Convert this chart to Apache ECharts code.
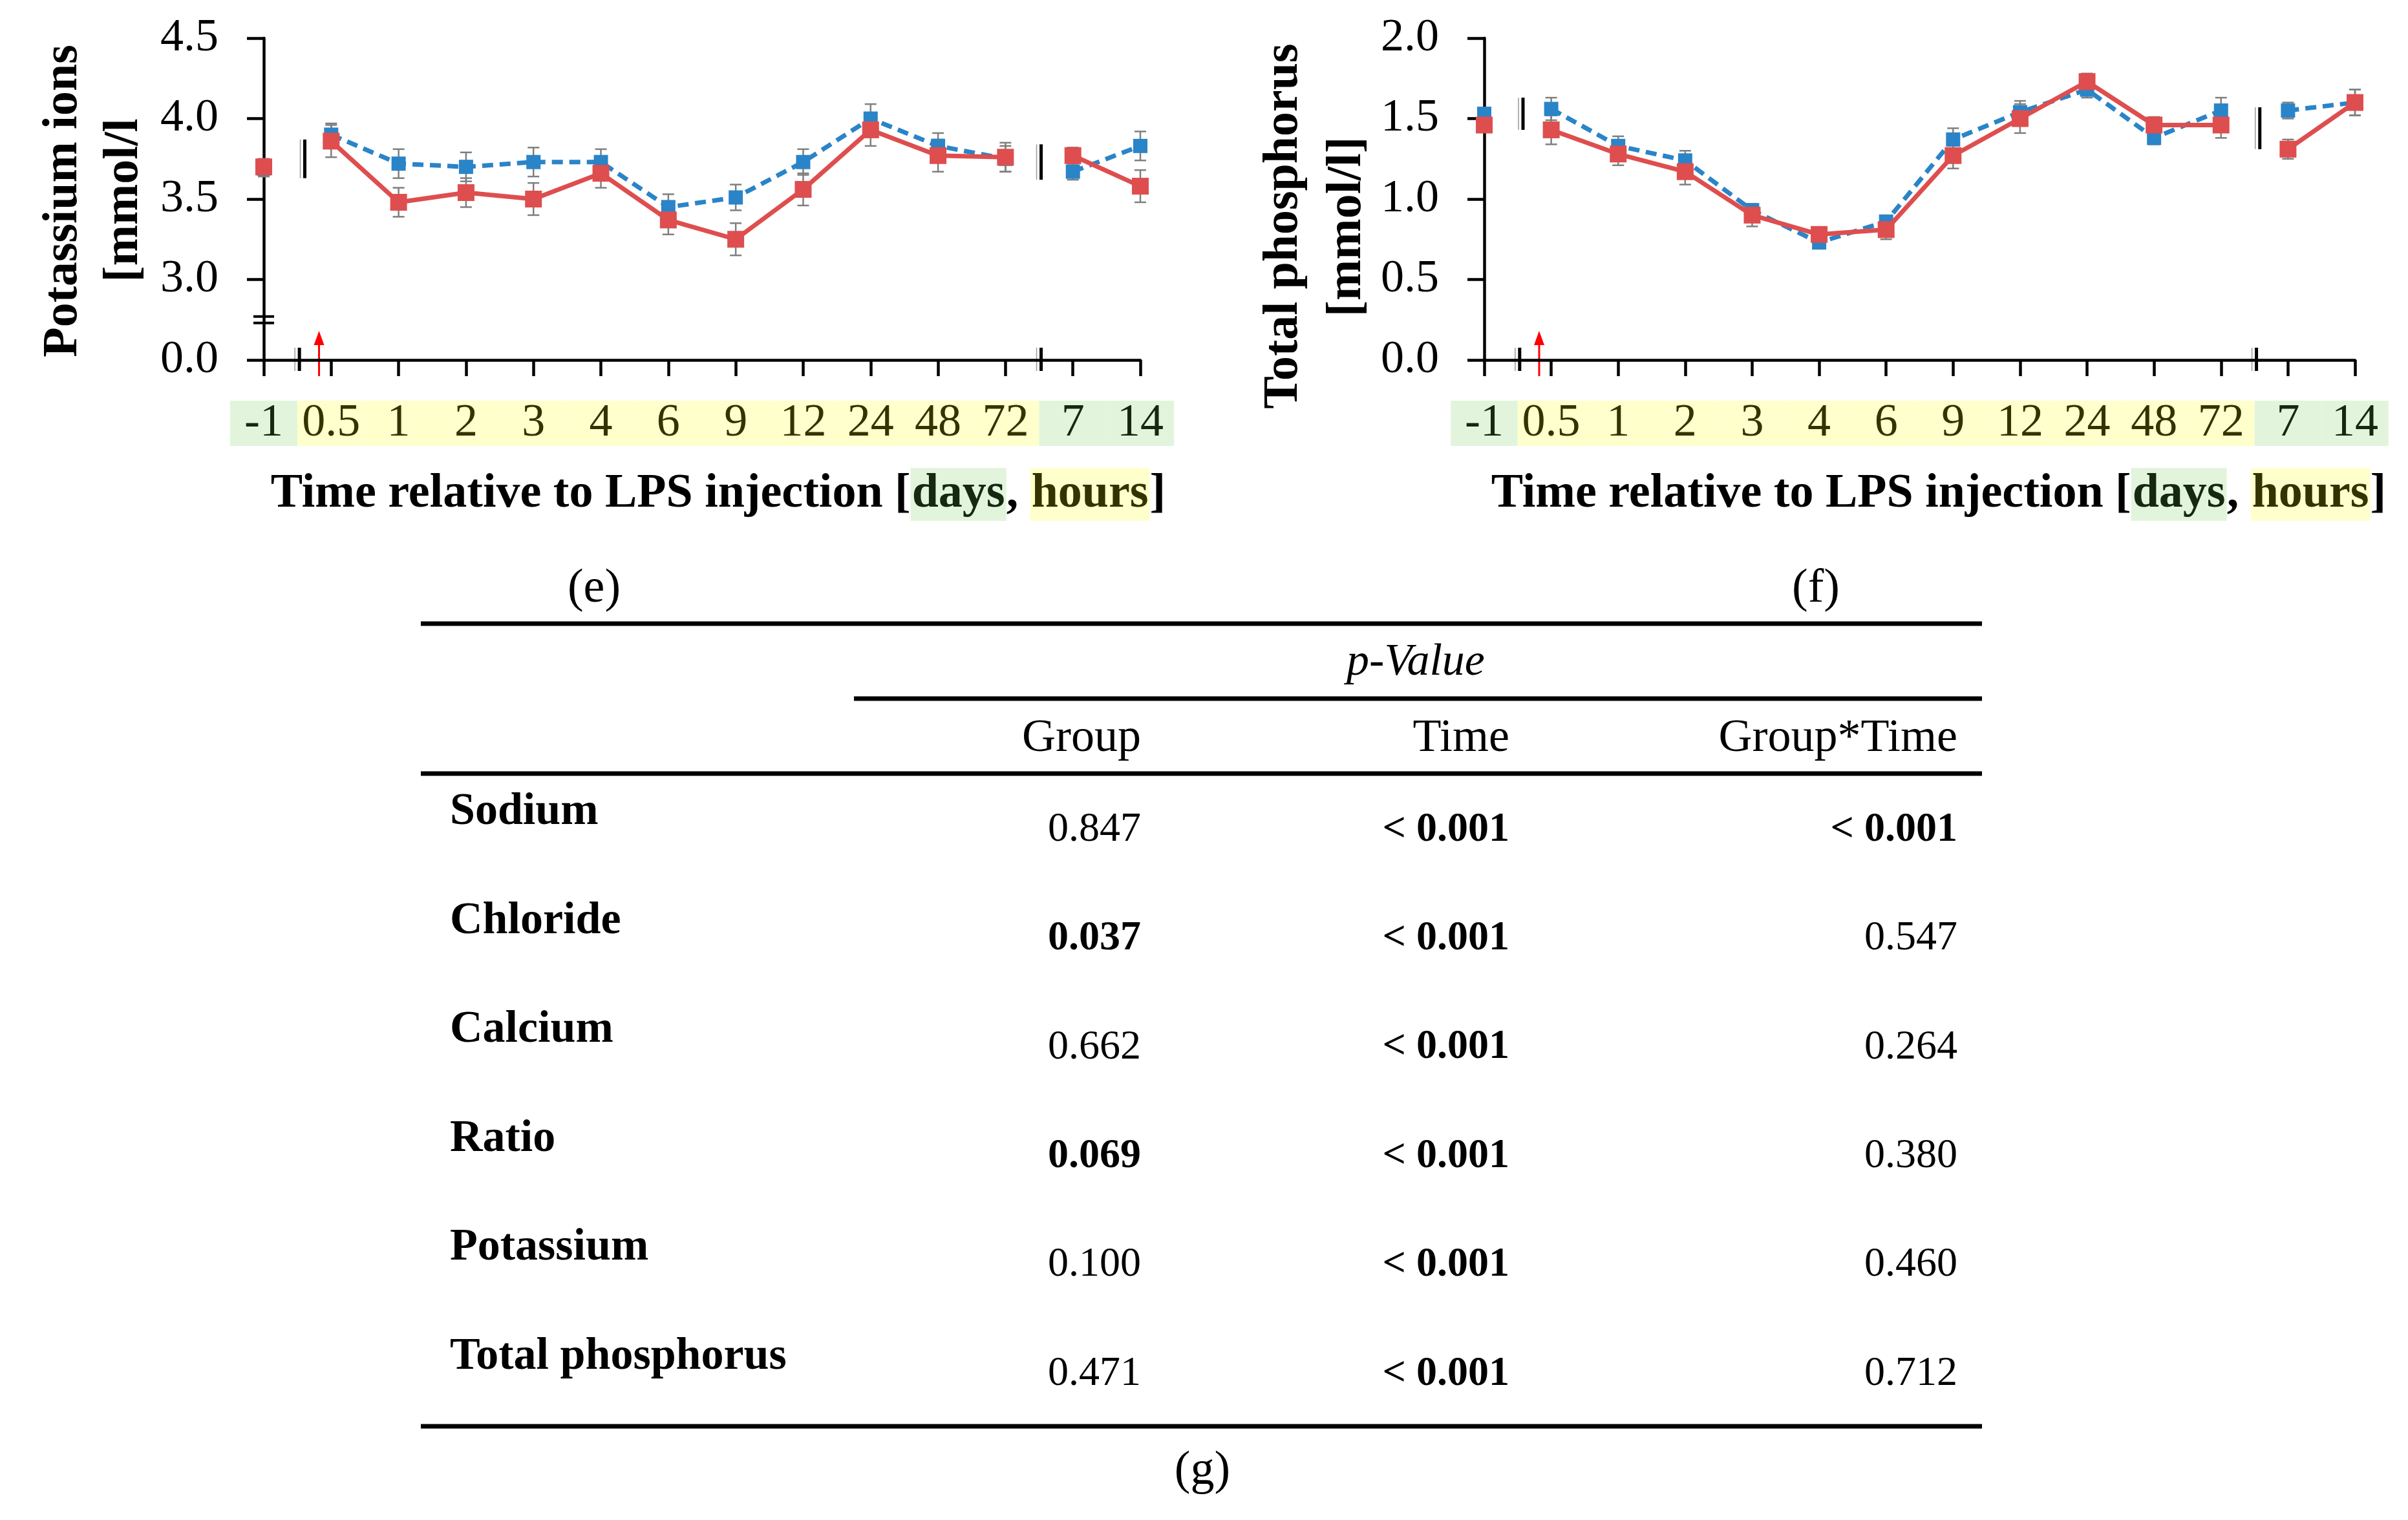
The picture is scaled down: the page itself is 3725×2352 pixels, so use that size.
<!DOCTYPE html>
<html>
<head>
<meta charset="utf-8">
<script src="https://cdn.jsdelivr.net/npm/echarts@6/dist/echarts.min.js"></script>
<style>
html,body{margin:0;padding:0;background:#ffffff;}
#c{width:3725px;height:2352px;}
</style>
</head>
<body>
<div id="c"></div>
<script>
// ---------- data ----------
const categories = ['-1', '0.5', '1', '2', '3', '4', '6', '9', '12', '24', '48', '72', '7', '14'];
const dayIndices = [0, 12, 13];            // categories given in days (others in hours)
const segments = [[0, 0], [1, 11], [12, 13]]; // broken line segments

const potassiumRed  = [3.70, 3.86, 3.48, 3.54, 3.50, 3.66, 3.37, 3.25, 3.56, 3.93, 3.77, 3.76, 3.77, 3.58];
const potassiumRedErr = [0.05, 0.10, 0.09, 0.09, 0.10, 0.09, 0.09, 0.10, 0.10, 0.10, 0.10, 0.09, 0.05, 0.10];
const potassiumBlue = [3.69, 3.90, 3.72, 3.70, 3.73, 3.73, 3.45, 3.51, 3.73, 4.00, 3.83, 3.75, 3.67, 3.83];
const potassiumBlueErr = [0.05, 0.07, 0.09, 0.09, 0.09, 0.08, 0.08, 0.08, 0.08, 0.09, 0.08, 0.08, 0.05, 0.09];

const phosphorusRed  = [1.46, 1.43, 1.28, 1.17, 0.90, 0.78, 0.81, 1.27, 1.50, 1.73, 1.46, 1.46, 1.31, 1.60];
const phosphorusRedErr = [0.04, 0.09, 0.07, 0.08, 0.07, 0.04, 0.06, 0.08, 0.09, 0.05, 0.05, 0.08, 0.06, 0.08];
const phosphorusBlue = [1.53, 1.56, 1.33, 1.24, 0.93, 0.73, 0.86, 1.37, 1.54, 1.68, 1.38, 1.55, 1.55, 1.60];
const phosphorusBlueErr = [0.03, 0.07, 0.06, 0.06, 0.04, 0.03, 0.03, 0.07, 0.07, 0.05, 0.04, 0.08, 0.05, 0.08];

const potassiumTicks = ['0.0', '3.0', '3.5', '4.0', '4.5'];
const phosphorusTicks = ['0.0', '0.5', '1.0', '1.5', '2.0'];

const tableColumns = ['Group', 'Time', 'Group*Time'];
const tableRows = ['Sodium', 'Chloride', 'Calcium', 'Ratio', 'Potassium', 'Total phosphorus'];
const pGroup     = ['0.847', '0.037', '0.662', '0.069', '0.100', '0.471'];
const pTime      = ['< 0.001', '< 0.001', '< 0.001', '< 0.001', '< 0.001', '< 0.001'];
const pGroupTime = ['< 0.001', '0.547', '0.264', '0.380', '0.460', '0.712'];
const pGroupBold     = [false, true, false, true, false, false];
const pTimeBold      = [true, true, true, true, true, true];
const pGroupTimeBold = [true, false, false, false, false, false];

// ---------- styling ----------
const FONT = '"Liberation Serif", "Times New Roman", serif';
const RED = '#DE4E4E';
const BLUE = '#2A84C8';
const ERR = '#7F7F7F';
const DAY_BG = '#E2F5DC', DAY_FG = '#14290F';
const HOUR_BG = '#FFFFCC', HOUR_FG = '#333300';

const chart = echarts.init(document.getElementById('c'), null, {renderer: 'canvas'});

const gridDefs = [
  {left: 408, top: 59, width: 1356, height: 498},
  {left: 2296, top: 59, width: 1347, height: 498}
];

function makeXAxis(g) {
  const cell = gridDefs[g].width / (categories.length - 1);
  const base = {fontSize: 72, fontFamily: FONT, width: cell, height: 70, lineHeight: 70, align: 'center', verticalAlign: 'middle'};
  return {
    type: 'category', gridIndex: g, data: categories, boundaryGap: false,
    axisLine: {show: true, lineStyle: {color: '#000', width: 4.5}},
    axisTick: {show: true, interval: 0, length: 25, lineStyle: {color: '#000', width: 4.5}},
    axisLabel: {
      interval: 0, margin: 63,
      formatter: function (v, i) { return (dayIndices.indexOf(i) >= 0 ? '{d|' : '{h|') + v + '}'; },
      rich: {
        d: Object.assign({}, base, {backgroundColor: DAY_BG, color: DAY_FG}),
        h: Object.assign({}, base, {backgroundColor: HOUR_BG, color: HOUR_FG})
      }
    },
    splitLine: {show: false}
  };
}

function makeYAxis(g, min, max, ticks) {
  return {
    type: 'value', gridIndex: g, min: min, max: max, interval: 0.5,
    axisLine: {show: true, onZero: false, lineStyle: {color: '#000', width: 4.5}},
    axisTick: {show: true, length: 26, lineStyle: {color: '#000', width: 4.5}},
    axisLabel: {
      margin: 70, fontSize: 72, fontFamily: FONT, color: '#000',
      formatter: function (v) {
        const k = Math.round((v - min) / 0.5);
        return ticks[k];
      }
    },
    splitLine: {show: false}
  };
}

function lineSeries(g, values, color, dashed, size, z) {
  return segments.map(function (seg) {
    return {
      type: 'line', xAxisIndex: g, yAxisIndex: g, z: z,
      data: values.map(function (v, i) { return (i >= seg[0] && i <= seg[1]) ? v : '-'; }),
      connectNulls: false,
      symbol: 'rect', symbolSize: size, showSymbol: true,
      itemStyle: {color: color},
      lineStyle: {color: color, width: 7, type: dashed ? [17, 10] : 'solid'},
      emphasis: {disabled: true},
      silent: true
    };
  });
}

function errorSeries(g, values, errs) {
  return {
    type: 'custom', xAxisIndex: g, yAxisIndex: g, z: 2, silent: true,
    data: values.map(function (v, i) { return [i, v, errs[i]]; }),
    encode: {x: 0, y: 1},
    renderItem: function (params, api) {
      const x = api.value(0), y = api.value(1), e = api.value(2);
      const top = api.coord([x, y + e]);
      const bot = api.coord([x, y - e]);
      const c = 9;
      const st = {stroke: ERR, lineWidth: 2.5};
      return {
        type: 'group', children: [
          {type: 'line', shape: {x1: top[0], y1: top[1], x2: bot[0], y2: bot[1]}, style: st},
          {type: 'line', shape: {x1: top[0] - c, y1: top[1], x2: top[0] + c, y2: top[1]}, style: st},
          {type: 'line', shape: {x1: bot[0] - c, y1: bot[1], x2: bot[0] + c, y2: bot[1]}, style: st}
        ]
      };
    }
  };
}

const series = [].concat(
  [errorSeries(0, potassiumBlue, potassiumBlueErr), errorSeries(0, potassiumRed, potassiumRedErr)],
  lineSeries(0, potassiumBlue, BLUE, true, 22, 3),
  lineSeries(0, potassiumRed, RED, false, 26, 4),
  [errorSeries(1, phosphorusBlue, phosphorusBlueErr), errorSeries(1, phosphorusRed, phosphorusRedErr)],
  lineSeries(1, phosphorusBlue, BLUE, true, 22, 3),
  lineSeries(1, phosphorusRed, RED, false, 26, 4)
);

chart.setOption({
  animation: false,
  backgroundColor: '#ffffff',
  grid: gridDefs,
  xAxis: [makeXAxis(0), makeXAxis(1)],
  yAxis: [makeYAxis(0, 2.5, 4.5, potassiumTicks), makeYAxis(1, 0, 2.0, phosphorusTicks)],
  series: series
});

// ---------- decorations computed from the axes ----------
function px(g, idx, val) { return chart.convertToPixel({xAxisIndex: g, yAxisIndex: g}, [idx, val]); }
function between(g, i0, i1, f, val) {
  const a = px(g, i0, val), b = px(g, i1, val);
  return [a[0] + (b[0] - a[0]) * f, a[1]];
}
const els = [];
function txt(x, y, text, font, align, extra) {
  els.push(Object.assign({
    type: 'text', x: x, y: y, silent: true,
    style: {text: text, font: font, fill: '#000', align: align, textAlign: align, verticalAlign: 'middle', textVerticalAlign: 'middle'}
  }, extra || {}));
}
function seg(x1, y1, x2, y2, w, color) {
  els.push({type: 'line', silent: true, shape: {x1: x1, y1: y1, x2: x2, y2: y2}, style: {stroke: color, lineWidth: w}});
}
function doubleBar(x, yTop, yBot) {
  seg(x - 4, yTop, x - 4, yBot, 1.5, '#9a9a9a');
  seg(x + 3, yTop, x + 3, yBot, 5, '#000');
}

[0, 1].forEach(function (g) {
  const yMin = g === 0 ? 2.5 : 0;
  const axisY = px(g, 0, yMin)[1];
  // x-axis breaks
  [[0, 1], [11, 12]].forEach(function (p) {
    const b = between(g, p[0], p[1], 0.5, yMin);
    doubleBar(b[0], axisY - 19, axisY + 17);
  });
  // red arrow (LPS injection)
  const ar = between(g, 0, 1, 0.82, yMin);
  seg(ar[0], axisY + 25, ar[0], axisY - 26, 3, '#FF0000');
  els.push({type: 'polygon', silent: true, shape: {points: [[ar[0], axisY - 45], [ar[0] - 8, axisY - 23], [ar[0] + 8, axisY - 23]]}, style: {fill: '#FF0000'}});
});

// data-line breaks
(function () {
  let a = between(0, 0, 1, 0.58, 3.87), b = px(0, 0, 3.63);
  doubleBar(a[0], a[1], b[1]);
  a = between(0, 11, 12, 0.5, 3.84); b = px(0, 0, 3.62);
  doubleBar(a[0], a[1], b[1]);
  a = between(1, 0, 1, 0.55, 1.63); b = px(1, 0, 1.43);
  doubleBar(a[0], a[1], b[1]);
  a = between(1, 11, 12, 0.55, 1.57); b = px(1, 0, 1.31);
  doubleBar(a[0], a[1], b[1]);
  // y-axis break on potassium chart
  const y1 = px(0, 0, 2.77), y2 = px(0, 0, 2.73);
  seg(y1[0] - 16, y1[1], y1[0] + 16, y1[1], 4, '#000');
  seg(y2[0] - 16, y2[1], y2[0] + 16, y2[1], 4, '#000');
})();

// axis titles
const YT = 'bold 76px ' + FONT;
txt(98, 311, 'Potassium ions', YT, 'center', {rotation: Math.PI / 2});
txt(192, 310, '[mmol/l', YT, 'center', {rotation: Math.PI / 2});
txt(1986, 350, 'Total phosphorus', YT, 'center', {rotation: Math.PI / 2});
txt(2084, 351, '[mmol/l]', YT, 'center', {rotation: Math.PI / 2});

function xTitle(cx) {
  const f = 'bold 74px ' + FONT;
  els.push({
    type: 'text', x: cx, y: 765, silent: true,
    style: {
      text: 'Time relative to LPS injection [{d|days}, {h|hours}]',
      font: f, fill: '#000',
      align: 'center', textAlign: 'center', verticalAlign: 'middle', textVerticalAlign: 'middle',
      rich: {
        d: {backgroundColor: DAY_BG, fill: DAY_FG, color: DAY_FG, font: f, padding: [4, 2, 4, 2]},
        h: {backgroundColor: HOUR_BG, fill: HOUR_FG, color: HOUR_FG, font: f, padding: [4, 2, 4, 2]}
      }
    }
  });
}
xTitle(1111);
xTitle(2999);

// panel labels
txt(919, 912, '(e)', '74px ' + FONT, 'center');
txt(2809, 912, '(f)', '74px ' + FONT, 'center');
txt(1860, 2277, '(g)', '74px ' + FONT, 'center');

// ---------- table (g) ----------
const ruleL = 651, ruleR = 3066;
seg(ruleL, 965, ruleR, 965, 7, '#000');
seg(1321, 1081, ruleR, 1081, 7, '#000');
seg(ruleL, 1197, ruleR, 1197, 7, '#000');
seg(ruleL, 2207, ruleR, 2207, 7, '#000');
txt(2190, 1026, 'p-Value', 'italic 70px ' + FONT, 'center');
const colRight = [1765, 2335, 3028];
tableColumns.forEach(function (c, j) { txt(colRight[j], 1143, c, '72px ' + FONT, 'right'); });
const cols = [[pGroup, pGroupBold], [pTime, pTimeBold], [pGroupTime, pGroupTimeBold]];
tableRows.forEach(function (r, i) {
  const yl = 1257 + i * 168.6, yv = 1284 + i * 168.4;
  txt(696, yl, r, 'bold 70px ' + FONT, 'left');
  cols.forEach(function (c, j) {
    txt(colRight[j], yv, c[0][i], (c[1][i] ? 'bold ' : '') + '64px ' + FONT, 'right');
  });
});

chart.setOption({graphic: {elements: els}});
</script>
</body>
</html>
